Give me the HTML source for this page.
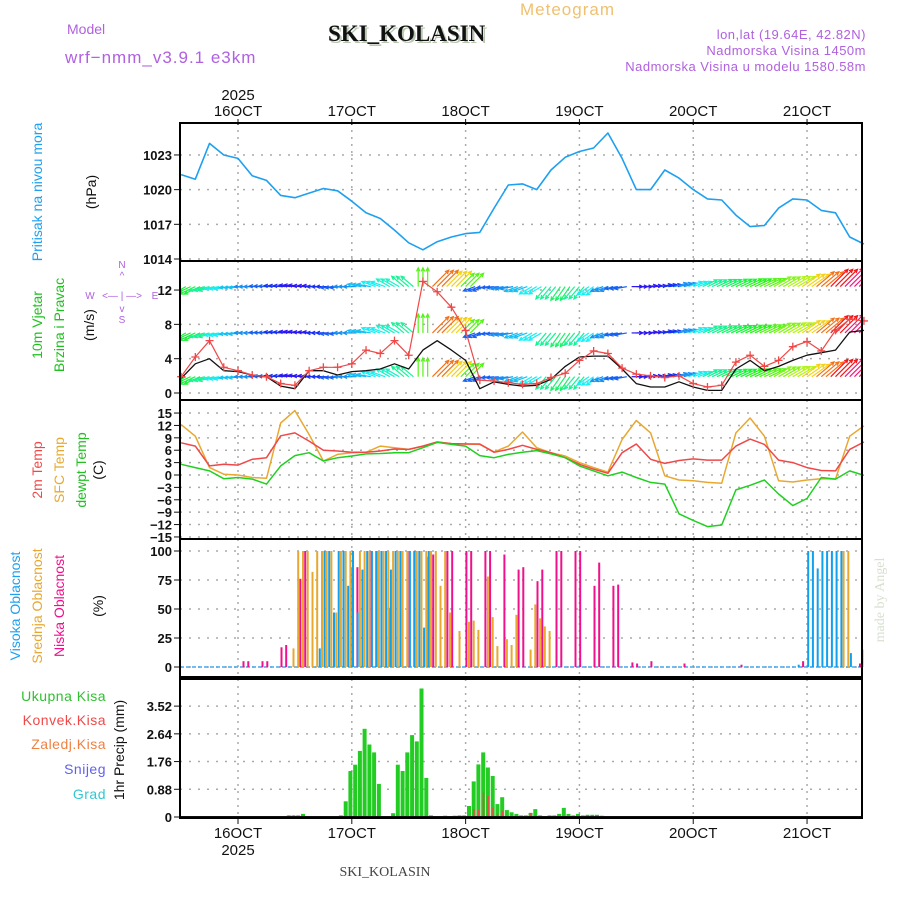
<!DOCTYPE html>
<html><head><meta charset="utf-8">
<style>
html,body{margin:0;padding:0;background:#fff;}
svg{display:block;font-family:"Liberation Sans",sans-serif;}
</style></head>
<body>
<svg id="chart" width="900" height="900" viewBox="0 0 900 900" xmlns="http://www.w3.org/2000/svg">
<defs><clipPath id="windclip"><rect x="180" y="261" width="682" height="139"/></clipPath></defs>
<g id="header">
<text x="520" y="15" font-size="17" fill="#f0c070" letter-spacing="1">Meteogram</text>
<text x="330" y="43" font-size="23" font-weight="bold" font-family="Liberation Serif,serif" fill="#b8c8b0">SKI_KOLASIN</text>
<text x="328" y="41" font-size="23" font-weight="bold" font-family="Liberation Serif,serif" fill="#111">SKI_KOLASIN</text>
<text x="67" y="34" font-size="14" fill="#b060e0">Model</text>
<text x="65" y="63" font-size="17" fill="#b060e0" letter-spacing="1">wrf−nmm_v3.9.1 e3km</text>
<text x="866" y="39" font-size="13" fill="#b060e0" text-anchor="end" letter-spacing="0.5">lon,lat (19.64E, 42.82N)</text>
<text x="866" y="55" font-size="13" fill="#b060e0" text-anchor="end" letter-spacing="0.5">Nadmorska Visina 1450m</text>
<text x="866" y="71" font-size="13" fill="#b060e0" text-anchor="end" letter-spacing="0.5">Nadmorska Visina u modelu 1580.58m</text>
<text x="238" y="100" font-size="15" text-anchor="middle" fill="#111">2025</text>
<text x="385" y="876" font-size="14" font-family="Liberation Serif,serif" text-anchor="middle" fill="#444">SKI_KOLASIN</text>
<text transform="translate(884,600) rotate(-90)" font-size="14" font-family="Liberation Serif,serif" text-anchor="middle" fill="#d8e0d0">made by Angel</text>
</g>
<g id="labels">
<text transform="translate(42,192) rotate(-90)" font-size="14" text-anchor="middle" fill="#1ea0f0">Pritisak na nivou mora</text>
<text transform="translate(96,192) rotate(-90)" font-size="14" text-anchor="middle" fill="#111">(hPa)</text>
<text transform="translate(42,325) rotate(-90)" font-size="14" text-anchor="middle" fill="#20c020">10m Vjetar</text>
<text transform="translate(64,325) rotate(-90)" font-size="14" text-anchor="middle" fill="#20c020">Brzina i Pravac</text>
<text transform="translate(94,325) rotate(-90)" font-size="14" text-anchor="middle" fill="#111">(m/s)</text>
<g fill="#b060e0" font-size="10" text-anchor="middle">
<text x="122" y="268">N</text>
<text x="122" y="279">^</text>
<text x="122" y="299">&lt;— | —&gt;</text>
<text x="122" y="312">v</text>
<text x="122" y="323">S</text>
<text x="90" y="299">W</text><text x="155" y="299">E</text>
</g>
<text transform="translate(42,470) rotate(-90)" font-size="14" text-anchor="middle" fill="#f04848">2m Temp</text>
<text transform="translate(64,470) rotate(-90)" font-size="14" text-anchor="middle" fill="#e8a830">SFC Temp</text>
<text transform="translate(86,470) rotate(-90)" font-size="14" text-anchor="middle" fill="#20c020">dewpt Temp</text>
<text transform="translate(103,470) rotate(-90)" font-size="14" text-anchor="middle" fill="#111">(C)</text>
<text transform="translate(20,606) rotate(-90)" font-size="14" text-anchor="middle" fill="#1ea0f0">Visoka Oblacnost</text>
<text transform="translate(42,606) rotate(-90)" font-size="14" text-anchor="middle" fill="#e8a830">Srednja Oblacnost</text>
<text transform="translate(64,606) rotate(-90)" font-size="14" text-anchor="middle" fill="#f0108c">Niska Oblacnost</text>
<text transform="translate(103,606) rotate(-90)" font-size="14" text-anchor="middle" fill="#111">(%)</text>
<text x="106" y="701" font-size="14" text-anchor="end" fill="#30c030" letter-spacing="0.5">Ukupna Kisa</text>
<text x="106" y="725" font-size="14" text-anchor="end" fill="#f04848" letter-spacing="0.5">Konvek.Kisa</text>
<text x="106" y="749" font-size="14" text-anchor="end" fill="#f08040" letter-spacing="0.5">Zaledj.Kisa</text>
<text x="106" y="774" font-size="14" text-anchor="end" fill="#6060f0" letter-spacing="0.5">Snijeg</text>
<text x="106" y="799" font-size="14" text-anchor="end" fill="#30c8d0" letter-spacing="0.5">Grad</text>
<text transform="translate(124,750) rotate(-90)" font-size="14" text-anchor="middle" fill="#111">1hr Precip (mm)</text>
</g>
<g id="plot"></g>
</svg>
<script>
// time axis (hours from 16OCT 00Z)
const hours3 = [-12,-9,-6,-3,0,3,6,9,12,15,18,21,24,27,30,33,36,39,42,45,48,51,54,57,60,63,66,69,72,75,78,81,84,87,90,93,96,99,102,105,108,111,114,117,120,123,126,129,132];
const dayLabels = ["16OCT","17OCT","18OCT","19OCT","20OCT","21OCT"];
const dayHours = [0,24,48,72,96,120];
// pressure (hPa)
const pressure = [1021.3,1020.9,1024.0,1023.0,1022.7,1021.2,1020.8,1019.5,1019.3,1019.7,1020.1,1019.9,1019.0,1018.0,1017.5,1016.5,1015.4,1014.8,1015.5,1015.9,1016.2,1016.3,1018.4,1020.4,1020.5,1020.0,1021.7,1022.8,1023.3,1023.6,1024.9,1022.7,1020.0,1020.0,1021.7,1021.0,1020.0,1019.2,1019.1,1017.8,1016.8,1016.9,1018.4,1019.2,1019.1,1018.2,1018.0,1015.9,1015.3];
const pressureTicks = [1014,1017,1020,1023];
// wind (m/s)
const windSpeed = [1.7,3.4,4.0,2.6,2.5,2.1,1.9,0.8,0.5,2.6,2.6,2.1,2.5,2.6,2.8,3.4,2.8,5.0,6.1,5.0,3.8,0.5,1.3,1.0,0.8,0.9,1.6,3.1,4.2,4.3,4.3,2.8,1.1,0.7,0.7,1.3,0.7,0.3,0.3,2.8,3.8,2.6,3.1,3.8,4.4,4.7,5.0,7.1,7.3];
const windGust = [1.9,4.2,6.1,3.0,2.6,2.1,1.9,1.1,0.9,2.6,3.0,3.0,3.4,5.0,4.6,6.1,4.4,13.0,11.8,10.0,7.3,1.5,1.4,1.2,1.0,1.1,1.8,2.3,3.8,4.9,4.6,2.9,2.2,2.0,1.8,2.0,1.1,0.7,0.9,3.6,4.4,3.1,3.8,5.4,6.0,4.9,7.3,8.6,8.4];
const windArrowDir = [210,205,195,190,185,180,178,175,172,175,180,185,180,170,160,150,140,90,45,45,45,200,185,190,200,210,230,235,230,215,200,190,0,5,10,15,20,25,25,25,25,25,30,30,35,40,45,45,45];
const windArrowSpd = [6,6,5,4,3.5,3,2.5,2,1.5,1.5,2,2.5,3,3.5,4,4.5,5,7,10,9,7,2.5,2.5,3,3.5,4,5,5.5,5,4,3,2.5,1.5,1.5,2,3,4,5,5.5,6,6.5,7,7.5,8,9,10,11,12,12];
const windRowLevels = [1.9,7.0,12.4];
const windTicks = [0,4,8,12];
// temperature (C)
const temp2m = [7.8,7.0,2.2,2.6,2.4,3.8,4.2,9.5,10.2,8.2,6.0,5.8,5.5,5.5,5.8,6.3,6.2,7.0,8.0,7.6,7.5,7.5,5.5,6.2,7.2,6.2,5.4,4.2,2.6,1.4,0.4,5.4,7.5,3.8,2.8,3.5,3.9,3.6,3.6,7.0,8.7,7.4,3.6,3.0,1.8,1.1,1.0,6.2,8.0];
const tempSfc = [12.2,9.4,1.8,0.2,0.0,-0.6,-0.8,12.6,15.6,9.8,3.4,5.0,5.4,5.5,7.0,6.6,6.2,7.0,8.0,7.6,7.5,7.4,5.6,7.0,10.4,6.6,5.4,4.6,3.0,1.8,0.7,8.6,13.2,10.2,-0.2,-1.2,-1.4,-1.8,-2.0,10.2,13.8,9.4,-1.4,-1.7,-1.2,-0.9,-1.0,9.4,11.9];
const dewpoint = [2.6,1.8,1.0,-0.9,-0.6,-1.0,-2.2,2.2,4.7,5.4,3.4,4.2,4.6,5.1,5.2,5.4,5.4,6.6,7.9,7.4,7.0,4.7,4.2,5.0,5.5,5.9,5.1,4.2,2.2,1.0,-0.2,0.7,-0.6,-1.8,-2.2,-9.4,-11.0,-12.5,-12.1,-3.6,-2.5,-1.2,-4.6,-7.4,-5.7,-0.6,-1.0,1.0,-0.1];
const tempTicks = [15,12,9,6,3,0,-3,-6,-9,-12,-15];
// cloud cover (%), hourly
const cloudHours = [1,2,5,6,9,10,12,13,14,15,16,17,18,19,20,21,22,23,24,25,26,27,28,29,30,31,32,33,34,35,36,37,38,39,40,41,42,43,44,45,47,48,49,50,51,52,53,54,55,56,57,58,59,60,62,63,64,65,66,67,68,71,72,75,76,79,80,83,84,87,94,106,119,121,122,123,124,125,126,127,128,129,130,131,132];
const cloudHigh = [0,0,0,0,0,0,0,0,0,0,0,0,16,100,100,47,100,100,70,100,47,84,100,100,100,100,100,84,100,100,0,100,100,100,34,100,0,0,0,0,0,0,0,0,0,0,0,0,0,0,0,0,0,0,0,0,0,0,0,0,0,0,0,0,0,0,0,0,0,0,0,0,2,100,100,85,100,100,100,100,100,0,12,0,0];
const cloudMid = [0,0,0,0,0,0,16,100,100,100,82,100,100,100,100,47,100,100,100,0,100,100,100,0,100,100,100,100,100,100,100,0,100,100,100,100,100,70,100,47,31,0,39,40,32,0,78,43,18,0,24,19,45,0,15,54,42,35,31,0,0,0,0,0,0,0,0,0,0,0,0,0,0,0,0,0,0,0,0,0,100,100,0,0,15];
const cloudLow = [5,5,5,5,17,19,0,76,100,0,0,0,0,0,0,0,0,0,85,86,0,0,100,100,0,0,51,0,0,0,100,100,0,0,95,97,0,0,100,100,0,100,100,0,0,100,100,0,0,97,0,0,84,86,0,74,84,0,0,100,100,100,100,70,90,70,71,4,3,5,3,2,5,0,0,0,0,0,0,0,0,0,0,3,0];
const cloudTicks = [0,25,50,75,100];
// precipitation (mm/h)
const precipHours = [11,12,13,14,22,23,24,25,26,27,28,29,30,33,34,35,36,37,38,39,40,41,44,46,47,48,49,50,51,52,53,54,55,56,57,58,59,60,61,62,63,64,65,66,67,68,69,70,71,72,73,74,75,76,77];
const precipTotal = [0.05,0.05,0.05,0.1,0.05,0.5,1.46,1.66,2.1,2.8,2.3,2.05,1.05,0.12,1.66,1.46,2.05,2.6,2.4,4.08,1.24,0.05,0.04,0.04,0.05,0.05,0.35,1.13,1.67,2.05,1.57,1.3,0.41,0.63,0.22,0.15,0.1,0.05,0.05,0.13,0.25,0.05,0.03,0.05,0.05,0.1,0.29,0.1,0.05,0.1,0.05,0.07,0.07,0.07,0.04];
const precipConv = [0.05,0.05,0,0,0,0,0,0,0,0,0,0,0,0,0,0,0,0,0,0,0,0,0,0,0,0,0,0.25,0.22,0.77,0.67,0.3,0.1,0.2,0,0,0,0,0,0.13,0.05,0,0,0,0,0,0,0,0,0,0,0,0,0,0];
const precipTicks = [0,0.88,1.76,2.64,3.52];

const NS='http://www.w3.org/2000/svg';
const plot=document.getElementById('plot');
const X0=180,X1=862;
const xS=h=>238+h*4.742;
const yP=p=>259-(p-1014)*11.56;
const yW=v=>393-v*8.58;
const yT=t=>475-t*4.13;
const yC=c=>667-c*1.16;
const yR=r=>817-r*31.5;
function mk(tag,attrs,parent){const e=document.createElementNS(NS,tag);for(const k in attrs)e.setAttribute(k,attrs[k]);(parent||plot).appendChild(e);return e;}
const panels=[{n:'pressure',t:123,b:261,ticks:pressureTicks,f:yP,fmt:v=>v},{n:'wind',t:261,b:400,ticks:windTicks,f:yW,fmt:v=>v},{n:'temperature',t:400,b:539,ticks:tempTicks,f:yT,fmt:v=>v<0?'−'+(-v):v},{n:'cloud',t:539,b:677,ticks:cloudTicks,f:yC,fmt:v=>v},{n:'precip',t:679,b:818,ticks:precipTicks,f:yR,fmt:v=>v===0?'0':v.toFixed(2)}];
panels.forEach(p=>{
  const g=mk('g',{});
  
  
  mk('rect',{x:X0,y:p.t,width:X1-X0,height:p.b-p.t,fill:'#fff'},g);
  p.ticks.forEach(v=>{
    const y=p.f(v);
    const gl=mk('line',{x1:X0,x2:X1,y1:y,y2:y,stroke:'#aaa','stroke-width':1.5,'stroke-dasharray':'2,7'},g);
    
    
    const tx=mk('text',{x:172,y:y+5,'font-size':13,'font-weight':'bold','text-anchor':'end',fill:'#111'},g);
    tx.textContent=p.fmt(v);
    
    
    mk('line',{x1:174,x2:X0,y1:y,y2:y,stroke:'#111','stroke-width':1},g);
  });
  dayHours.forEach(h=>{
    const vl=mk('line',{x1:xS(h),x2:xS(h),y1:p.t,y2:p.b,stroke:'#aaa','stroke-width':1.5,'stroke-dasharray':'2,5'},g);
    
    
  });
  p.g=g;
});
dayLabels.forEach((d,i)=>{
  const x=xS(dayHours[i]);
  const t1=mk('text',{x:x,y:116,'font-size':15,'text-anchor':'middle',fill:'#111'});
  t1.textContent=d;
  
  
  const t2=mk('text',{x:x,y:838,'font-size':15,'text-anchor':'middle',fill:'#111'});
  t2.textContent=d;
  
  
  mk('line',{x1:x,x2:x,y1:119,y2:125,stroke:'#111'});
  mk('line',{x1:x,x2:x,y1:818,y2:824,stroke:'#111'});
});
const by=mk('text',{x:238,y:855,'font-size':15,'text-anchor':'middle',fill:'#111'});
by.textContent='2025';



function line(vals,fy,color,name,w){
  const pts=vals.map((v,i)=>xS(hours3[i]).toFixed(1)+','+fy(v).toFixed(1)).join(' ');
  const l=mk('polyline',{points:pts,fill:'none',stroke:color,'stroke-width':w||1.5,'stroke-linejoin':'round'});
  
  
  return l;
}
line(pressure,yP,'#1ea0f0','pressure-line',1.6);
const wg=mk('g',{'clip-path':'url(#windclip)'});


windRowLevels.forEach((lv,r)=>{
  hours3.forEach((h,i)=>{
    const s=windArrowSpd[i],a=windArrowDir[i]*Math.PI/180;
    const hue=Math.max(-30,285-s*26);
    const col='hsl('+((hue+360)%360)+',90%,52%)';
    const len=9+s*1.4;
    for(let k=0;k<3;k++){
      const x=xS(h)+(k-1)*4.74, y=yW(lv);
      const x2=x+Math.cos(a)*len, y2=y-Math.sin(a)*len;
      const ar=mk('line',{x1:x,y1:y,x2:x2,y2:y2,stroke:col,'stroke-width':1.2},wg);
      
      
      const ah=a+Math.PI;
      mk('polyline',{points:[x2+Math.cos(ah+0.45)*4,y2-Math.sin(ah+0.45)*4,x2,y2,x2+Math.cos(ah-0.45)*4,y2-Math.sin(ah-0.45)*4].map(v=>v.toFixed(1)).join(','),fill:'none',stroke:col,'stroke-width':1.2},wg);
    }
  });
});
line(windSpeed,yW,'#111','wind-speed-line',1.3);
line(windGust,yW,'#f04848','wind-gust-line',1.2);
hours3.forEach((h,i)=>{
  const x=xS(h),y=yW(windGust[i]);
  const m=mk('path',{d:`M${x-4},${y}H${x+4}M${x},${y-4}V${y+4}`,stroke:'#f04848','stroke-width':1.3});
  
  
});
line(tempSfc,yT,'#e8a830','sfc-temp-line',1.5);
line(temp2m,yT,'#f04848','temp-2m-line',1.5);
line(dewpoint,yT,'#20d020','dewpoint-line',1.5);
mk('line',{x1:X0,x2:X1,y1:yC(0),y2:yC(0),stroke:'#40a8f0','stroke-width':1.5,'stroke-dasharray':'4,2'});
cloudHours.forEach((h,i)=>{
  const xc=xS(h)-1.4;
  [[cloudHigh[i],'#10a0f0',-2.2,'high-cloud-bar'],[cloudMid[i],'#e8a830',0,'mid-cloud-bar'],[cloudLow[i],'#f0108c',2.2,'low-cloud-bar']].forEach(c=>{
    if(c[0]<=0)return;
    const b=mk('rect',{x:(xc+c[2]-1).toFixed(1),y:yC(c[0]).toFixed(1),width:2,height:(c[0]*1.16).toFixed(1),fill:c[1]});
    
    
  });
});
precipHours.forEach((h,i)=>{
  const xc=xS(h)-1.4;
  const b=mk('rect',{x:(xc-2).toFixed(1),y:yR(precipTotal[i]).toFixed(1),width:4,height:(precipTotal[i]*31.5).toFixed(1),fill:'#22cc22'});
  
  
  if(precipConv[i]>0){
    const c=mk('rect',{x:(xc-0.5).toFixed(1),y:yR(precipConv[i]).toFixed(1),width:1.5,height:(precipConv[i]*31.5).toFixed(1),fill:'#f04848'});
    
    
  }
});
mk('line',{x1:X0,x2:X1,y1:817,y2:817,stroke:'#111','stroke-width':2});
panels.forEach(p=>{
  const r=mk('rect',{x:X0,y:p.t,width:X1-X0,height:p.b-p.t,fill:'none',stroke:'#000','stroke-width':2});
  
  
});
</script>
</body></html>
